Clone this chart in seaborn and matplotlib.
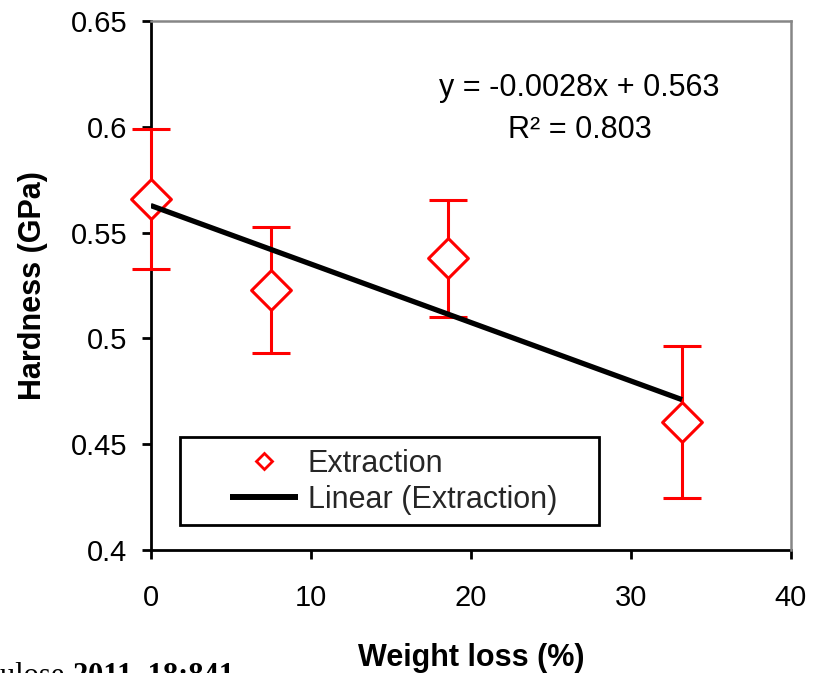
import numpy as np
import pandas as pd
import matplotlib
matplotlib.use("Agg")
import matplotlib.pyplot as plt
import seaborn as sns
from matplotlib.lines import Line2D
from matplotlib.patches import Rectangle

# ---- data ----
weight_loss = [0.0, 7.5, 18.57, 33.19]
hardness = [0.566, 0.5229, 0.5379, 0.4606]
hardness_err = [0.033, 0.0297, 0.0277, 0.0358]
x_ticks = [0, 10, 20, 30, 40]
y_ticks = [0.4, 0.45, 0.5, 0.55, 0.6, 0.65]
y_tick_labels = ["0.4", "0.45", "0.5", "0.55", "0.6", "0.65"]
series_name = "Extraction"
trend_name = "Linear (Extraction)"
equation_text = "y = -0.0028x + 0.563"
r2_text = "R² = 0.803"
x_label = "Weight loss (%)"
y_label = "Hardness (GPa)"
citation_plain = "Cellulose "
citation_bold = "2011, 18:841"

df = pd.DataFrame({"weight_loss": weight_loss, "hardness": hardness})

sns.set_style("ticks")
plt.rcParams["font.family"] = ["Liberation Sans", "DejaVu Sans"]

fig = plt.figure(figsize=(8.17, 6.73), dpi=100)
ax = fig.add_axes([0.18446, 0.18276, 0.7837, 0.78603])

RED = "#FF0000"

eb = ax.errorbar(weight_loss, hardness, yerr=hardness_err, fmt="none", ecolor=RED,
                 elinewidth=2.2, capsize=14, capthick=2.2, zorder=2)
for artist in eb.lines[1] + eb.lines[2]:
    artist.set_clip_on(False)
sns.scatterplot(data=df, x="weight_loss", y="hardness", marker="D", s=410,
                color="white", edgecolor=RED, linewidth=2.2, zorder=3,
                legend=False, clip_on=False, ax=ax)
sns.regplot(data=df, x="weight_loss", y="hardness", scatter=False, ci=None,
            truncate=True, color="black",
            line_kws={"linewidth": 3.8, "zorder": 5, "solid_capstyle": "butt"},
            ax=ax)

ax.set_xlim(0, 40)
ax.set_ylim(0.4, 0.65)
ax.set_xticks(x_ticks)
ax.set_xticklabels([str(t) for t in x_ticks])
ax.set_yticks(y_ticks)
ax.set_yticklabels(y_tick_labels)

for side in ["left", "bottom"]:
    ax.spines[side].set_color("black")
    ax.spines[side].set_linewidth(2)
    ax.spines[side].set_zorder(1)
for side in ["top", "right"]:
    ax.spines[side].set_visible(True)
    ax.spines[side].set_color("#868686")
    ax.spines[side].set_linewidth(1.8)

ax.tick_params(axis="both", direction="out", length=6.5, width=2,
               color="black", labelsize=21, labelcolor="black")
ax.tick_params(axis="x", pad=18)
ax.tick_params(axis="y", pad=10.5)

ax.set_xlabel(x_label, fontsize=22, fontweight="bold", color="black")
ax.set_ylabel(y_label, fontsize=22, fontweight="bold", color="black")
ax.xaxis.set_label_coords(0.5, -0.175)
ax.yaxis.set_label_coords(-0.16, 0.5)

ax.text(0.67, 0.873, equation_text, ha="center", va="center",
        transform=ax.transAxes, fontsize=22, color="black")
ax.text(0.67, 0.794, r2_text, ha="center", va="center",
        transform=ax.transAxes, fontsize=22, color="black")

# legend frame and legend
ax.add_patch(Rectangle((0.0458, 0.0473), 0.6544, 0.1663, transform=ax.transAxes,
                       facecolor="white", edgecolor="black", linewidth=2,
                       zorder=4))
handles = [
    Line2D([], [], marker="D", ls="none", mfc="white", mec=RED, ms=8, mew=2),
    Line2D([], [], color="black", lw=4.3, solid_capstyle="butt"),
]
leg = ax.legend(handles, [series_name, trend_name], loc="upper left",
                bbox_to_anchor=(0.1237, 0.191), borderaxespad=0, borderpad=0,
                frameon=False, handlelength=2.22, handletextpad=0.33,
                labelspacing=0.2, fontsize=22)
leg.set_zorder(6)

# cut-off citation at bottom left (cut off in the reference as well)
fig.text(72 / 817, -0.0159, citation_plain, ha="right", va="baseline",
         family=["Liberation Serif"], fontsize=22, color="black")
fig.text(73 / 817, -0.0159, citation_bold, ha="left", va="baseline",
         family=["Liberation Serif"], fontsize=22, fontweight="bold",
         color="black")

fig.savefig("out.png", dpi=100)
